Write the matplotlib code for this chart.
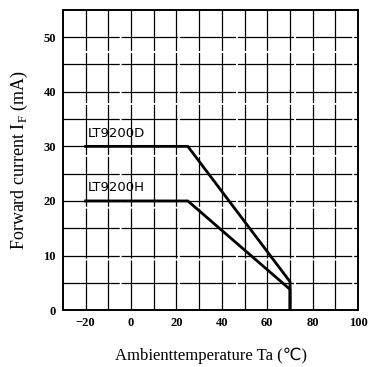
import matplotlib
matplotlib.use("Agg")
import matplotlib.pyplot as plt

d_x = [-20, 25, 70, 70]
d_y = [30, 30, 5.2, 0]
h_x = [-20, 25, 70, 70]
h_y = [20, 20, 3.8, 0]
x_ticks = [-20, 0, 20, 40, 60, 80, 100]
y_ticks = [0, 10, 20, 30, 40, 50]

fig = plt.figure(figsize=(3.79, 3.67), dpi=100)
ax = fig.add_axes([0.166, 0.155, 0.779, 0.818])
ax.set_xlim(-30, 100)
ax.set_ylim(0, 55)

for gx in range(-20, 100, 10):
    ax.axvline(gx, color="black", lw=0.9, ls=(0, (40, 1.5)), zorder=1)
for gy in range(5, 55, 5):
    ax.axhline(gy, color="black", lw=0.9, ls=(0, (45, 1.5)), zorder=1)

ax.plot(d_x, d_y, color="black", lw=2.0, zorder=3, solid_joinstyle="miter")
ax.plot(h_x, h_y, color="black", lw=2.0, zorder=3, solid_joinstyle="miter")
ax.text(-19, 31.2, "LT9200D", fontsize=9.5, family="DejaVu Sans", va="bottom", ha="left")
ax.text(-19, 21.2, "LT9200H", fontsize=9.5, family="DejaVu Sans", va="bottom", ha="left")

for s in ax.spines.values():
    s.set_linewidth(1.4)

ax.set_xticks(x_ticks)
ax.set_xticklabels(["\u221220", "0", "20", "40", "60", "80", "100"])
ax.set_yticks(y_ticks)
ax.tick_params(length=0, pad=5, labelsize=9)
for lab in ax.get_xticklabels() + ax.get_yticklabels():
    lab.set_family("Liberation Serif")
    lab.set_fontweight("bold")

ax.set_xlabel("Ambienttemperature Ta (\u2103)", family=["Liberation Serif", "DejaVu Sans"],
              fontsize=12, labelpad=13)
ax.set_ylabel("Forward current I$_\\mathregular{F}$ (mA)", family="Liberation Serif",
              fontsize=13, labelpad=10)

fig.savefig("out.png", dpi=100)
